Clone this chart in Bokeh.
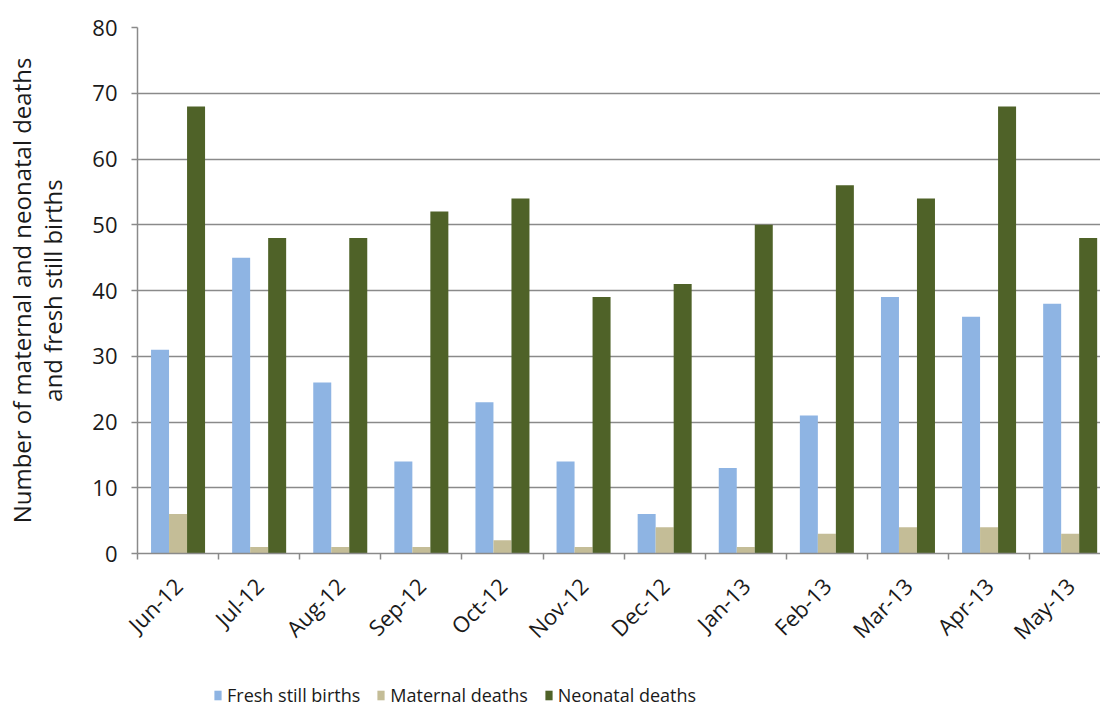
import math
from bokeh.plotting import figure
from bokeh.layouts import column
from bokeh.models import (ColumnDataSource, Range1d, FixedTicker, Legend, LegendItem)
from bokeh.embed import file_html
from bokeh.resources import INLINE

months = ["Jun-12", "Jul-12", "Aug-12", "Sep-12", "Oct-12", "Nov-12",
          "Dec-12", "Jan-13", "Feb-13", "Mar-13", "Apr-13", "May-13"]
fresh_still_births = [31, 45, 26, 14, 23, 14, 6, 13, 21, 39, 36, 38]
maternal_deaths = [6, 1, 1, 1, 2, 1, 4, 1, 3, 4, 4, 3]
neonatal_deaths = [68, 48, 48, 52, 54, 39, 41, 50, 56, 54, 68, 48]
series_names = ["Fresh still births", "Maternal deaths", "Neonatal deaths"]
series_colors = ["#8EB4E3", "#C4BD97", "#4F6228"]

FONT = "Open Sans"
TEXT = "#1a1a1a"
GRID = "#8a8a8a"
BAR_W = 0.222

centers = [i + 0.5 for i in range(len(months))]
src = ColumnDataSource(dict(
    month=months,
    x_fsb=[c - BAR_W for c in centers],
    x_mat=centers,
    x_neo=[c + BAR_W for c in centers],
    fsb=fresh_still_births,
    mat=maternal_deaths,
    neo=neonatal_deaths,
))
xcols = ["x_fsb", "x_mat", "x_neo"]
ycols = ["fsb", "mat", "neo"]

p = figure(width=1100, height=660, output_backend="svg", toolbar_location=None,
           x_range=Range1d(0, 11.874), y_range=Range1d(0, 80),
           min_border_left=137, min_border_right=0, min_border_top=27,
           min_border_bottom=107)
p.outline_line_color = None
p.background_fill_color = "white"

for xcol, ycol, color in zip(xcols, ycols, series_colors):
    p.vbar(x=xcol, top=ycol, width=BAR_W, source=src, fill_color=color, line_color=None)

# horizontal gridlines only
p.xgrid.grid_line_color = None
p.ygrid.grid_line_color = GRID
p.ygrid.grid_line_width = 1.5
p.ygrid.ticker = FixedTicker(ticks=list(range(0, 81, 10)))

# y axis
yax = p.yaxis[0]
yax.ticker = FixedTicker(ticks=list(range(0, 81, 10)))
yax.axis_line_color = GRID
yax.axis_line_width = 1.5
yax.major_tick_line_color = GRID
yax.major_tick_line_width = 1.5
yax.major_tick_in = 0
yax.major_tick_out = 6
yax.minor_tick_line_color = None
yax.major_label_text_font = FONT
yax.major_label_text_font_size = "22px"
yax.major_label_text_color = TEXT
yax.major_label_standoff = 14
yax.axis_label = "Number of maternal and neonatal deaths\nand fresh still births"
yax.axis_label_text_font = FONT
yax.axis_label_text_font_size = "24px"
yax.axis_label_text_font_style = "normal"
yax.axis_label_text_color = TEXT
yax.axis_label_text_line_height = 0.95
yax.axis_label_standoff = 20

# x axis: labels at month centres, tick marks at month boundaries
xax = p.xaxis[0]
xax.ticker = FixedTicker(ticks=centers, minor_ticks=list(range(0, 13)))
xax.major_label_overrides = {c: m for c, m in zip(centers, months)}
xax.major_label_orientation = math.pi / 4
xax.major_label_text_font = FONT
xax.major_label_text_font_size = "22px"
xax.major_label_text_color = TEXT
xax.major_label_standoff = 22
xax.major_tick_line_color = None
xax.minor_tick_line_color = GRID
xax.minor_tick_line_width = 1.5
xax.minor_tick_in = 0
xax.minor_tick_out = 6
xax.axis_line_color = GRID
xax.axis_line_width = 1.5

# legend strip underneath the chart; its bars sit outside the visible range
leg = figure(width=1100, height=47, output_backend="svg", toolbar_location=None,
             x_axis_type=None, y_axis_type=None, min_border=0,
             x_range=Range1d(-20, -19), y_range=Range1d(0, 1))
leg.outline_line_color = None
leg.xgrid.visible = False
leg.ygrid.visible = False
items = []
for name, xcol, ycol, color in zip(series_names, xcols, ycols, series_colors):
    r = leg.vbar(x=xcol, top=ycol, width=BAR_W, source=src, fill_color=color, line_color=None)
    items.append(LegendItem(label=name, renderers=[r]))

legend = Legend(items=items, orientation="horizontal", location=(76, 0))
legend.label_text_font = FONT
legend.label_text_font_size = "18px"
legend.label_text_color = TEXT
legend.glyph_width = 9
legend.glyph_height = 12
legend.spacing = 16
legend.label_standoff = 5
legend.border_line_color = None
legend.background_fill_alpha = 0
legend.margin = 0
legend.padding = 2
leg.add_layout(legend, "center")

layout = column(p, leg, spacing=0)
open("out.html", "w").write(file_html(layout, INLINE))
